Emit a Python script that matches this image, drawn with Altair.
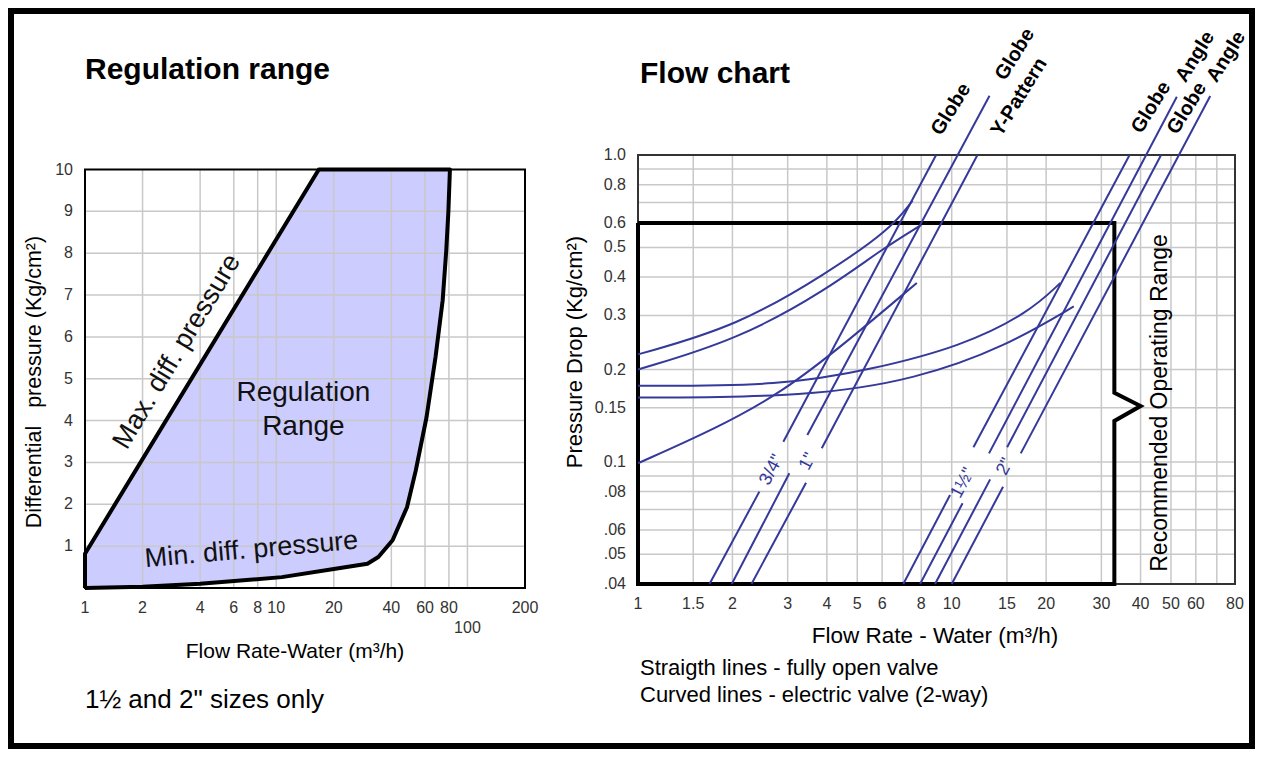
import altair as alt
import pandas as pd

FONT = "Liberation Sans"
BLUE = "#34399a"
GRID = "#c8c8c8"

# ---------------- Left panel: Regulation range ----------------
left_x_ticks = [1, 2, 4, 6, 8, 10, 20, 40, 60, 80, 200]
left_x_ticks_row2 = [100]
left_x_grid = [2, 4, 6, 8, 10, 20, 40, 60, 80, 100]
left_y_ticks = [1, 2, 3, 4, 5, 6, 7, 8, 9, 10]
left_y_grid = [1, 2, 3, 4, 5, 6, 7, 8, 9]

# upper boundary (max diff. pressure, then the 10 kg/cm2 cap)
max_q = [1, 16.7, 81]
max_p = [0.82, 10, 10]
# lower / right boundary (min diff. pressure, then capacity limit)
min_q = [1, 2, 4, 10.7, 20.4, 30, 34.2, 40.6, 48.3, 53.7, 61.1, 68.1, 74.2, 77.5, 79.5, 81]
min_p = [0, 0.03, 0.10, 0.26, 0.46, 0.58, 0.74, 1.14, 1.93, 2.81, 4.08, 5.52, 6.87, 8.07, 9.0, 10]

# ---------------- Right panel: Flow chart ----------------
right_x_ticks = [1, 1.5, 2, 3, 4, 5, 6, 8, 10, 15, 20, 30, 40, 50, 60, 80]
right_x_grid = [1.5, 2, 3, 4, 5, 6, 7, 8, 10, 15, 20, 30, 40, 50, 60, 70]
right_y_ticks = [1.0, 0.8, 0.6, 0.5, 0.4, 0.3, 0.2, 0.15, 0.1, 0.08, 0.06, 0.05, 0.04]
right_y_labels = ["1.0", "0.8", "0.6", "0.5", "0.4", "0.3", "0.2", "0.15", "0.1", ".08", ".06", ".05", ".04"]
right_y_grid = [0.9, 0.8, 0.7, 0.6, 0.5, 0.4, 0.3, 0.2, 0.15, 0.1, 0.09, 0.08, 0.07, 0.06, 0.05]

# recommended operating range outline (with brace)
range_q = [1, 33, 33, 40, 33, 33, 1, 1]
range_p = [0.6, 0.6, 0.168, 0.152, 0.136, 0.04, 0.04, 0.6]

# straight lines (fully open valve), split where the size labels sit
seg_q0 = [1.69, 2.906, 1.99, 3.466, 2.30, 3.853, 7.01, 11.73, 7.93, 13.15, 8.85, 15.02, 10.0, 16.6]
seg_p0 = [0.04, 0.1163, 0.04, 0.1223, 0.04, 0.1107, 0.04, 0.1116, 0.04, 0.1066, 0.04, 0.1116, 0.04, 0.1066]
seg_q1 = [2.437, 8.92, 3.037, 13.2, 3.433, 12.08, 9.88, 36.9, 10.83, 52.2, 13.26, 46.5, 14.58, 66.7]
seg_p1 = [0.080, 1.0, 0.0918, 1.56, 0.0855, 1.0, 0.078, 1.0, 0.0733, 1.549, 0.0877, 1.0, 0.0830, 1.557]

# curved lines (electric valve)
curve_A_q = [1, 2.08, 4.0, 6.35, 7.5]
curve_A_p = [0.224, 0.277, 0.412, 0.57, 0.71]
curve_B_q = [1, 2.08, 4.0, 5.95, 8.0]
curve_B_p = [0.200, 0.250, 0.364, 0.491, 0.592]
curve_C_q = [1, 2.88, 5.57, 10.75, 17.6, 22.2]
curve_C_p = [0.177, 0.177, 0.200, 0.238, 0.306, 0.383]
curve_D_q = [1, 3.5, 7.74, 14.9, 24.5]
curve_D_p = [0.162, 0.163, 0.186, 0.238, 0.321]
curve_E_q = [1, 1.76, 2.88, 4.72, 7.74]
curve_E_p = [0.099, 0.128, 0.168, 0.250, 0.383]

size_labels = ['3/4"', '1"', '1½"', '2"']
size_q = [2.669, 3.484, 10.87, 14.80]
size_p = [0.0941, 0.1002, 0.0853, 0.0964]

valve_labels = ["Globe", "Globe", "Y-Pattern", "Globe", "Angle", "Globe", "Angle"]
valve_q = [9.95, 15.9, 16.4, 43.2, 59.7, 56.2, 75.0]
valve_p = [1.41, 2.13, 1.545, 1.43, 2.09, 1.42, 2.09]

# ---------------- scales (placing the two panels) ----------------
XL = alt.Scale(type="log", domain=[1, 200], range=[74, 514], nice=False)
YL = alt.Scale(type="linear", domain=[0, 10], range=[577, 158.5], nice=False, zero=False)
XR = alt.Scale(type="log", domain=[1, 80], range=[627, 1224], nice=False)
YR = alt.Scale(type="log", domain=[0.04, 1.0], range=[573, 144], nice=False)

one = pd.DataFrame({"a": [0]})


def txt(s, x, y, size=20, weight="normal", angle=0, align="center", baseline="middle", color="black"):
    kw = dict(font=FONT, fontSize=size, fontWeight=weight, align=align, baseline=baseline, color=color)
    if angle:
        kw["angle"] = angle
    return alt.Chart(pd.DataFrame({"t": [s]})).mark_text(**kw).encode(
        x=alt.value(x), y=alt.value(y), text="t:N")


def lx(f):
    return alt.X(f, scale=XL, axis=None)


def ly(f):
    return alt.Y(f, scale=YL, axis=None)


def rx(f):
    return alt.X(f, scale=XR, axis=None)


def ry(f):
    return alt.Y(f, scale=YR, axis=None)


# ---- left layers
max_df = pd.DataFrame({"q": max_q, "p": max_p})
min_df = pd.DataFrame({"q": min_q, "p": min_p})
out_q = [1] + max_q + min_q[::-1]
out_p = [0] + max_p + min_p[::-1]
outline_df = pd.DataFrame({"q": out_q, "p": out_p, "i": list(range(len(out_q)))})

area_hi = alt.Chart(max_df).mark_area(color="#ccccff", opacity=1).encode(
    x=lx("q:Q"), y=ly("p:Q"), y2=alt.datum(0))
area_lo = alt.Chart(min_df).mark_area(color="white", opacity=1).encode(
    x=lx("q:Q"), y=ly("p:Q"), y2=alt.datum(0))
lgrid_v = alt.Chart(pd.DataFrame({"v": left_x_grid})).mark_rule(color=GRID, strokeWidth=1.5).encode(
    x=lx("v:Q"), y=alt.YDatum(0, scale=YL, axis=None), y2=alt.datum(10))
lgrid_h = alt.Chart(pd.DataFrame({"v": left_y_grid})).mark_rule(color=GRID, strokeWidth=1.5).encode(
    y=ly("v:Q"), x=alt.XDatum(1, scale=XL, axis=None), x2=alt.datum(200))
lframe = alt.Chart(one).mark_rect(fillOpacity=0, stroke="black", strokeWidth=2).encode(
    x=alt.XDatum(1, scale=XL, axis=None), x2=alt.datum(200),
    y=alt.YDatum(0, scale=YL, axis=None), y2=alt.datum(10))
outline = alt.Chart(outline_df).mark_line(color="black", strokeWidth=4, strokeJoin="round").encode(
    x=lx("q:Q"), y=ly("p:Q"), order="i:Q")

ann_df = pd.DataFrame({
    "t": ["Max. diff. pressure", "Regulation", "Range", "Min. diff. pressure"],
    "q": [3.03, 13.87, 13.87, 7.42],
    "p": [5.65, 4.65, 3.85, 0.91],
    "a": [301, 0, 0, 355],
    "s": [27, 28, 28, 27],
})
left_ann = alt.Chart(ann_df).mark_text(font=FONT, color="#111").encode(
    x=lx("q:Q"), y=ly("p:Q"), text="t:N", angle=alt.Angle("a:Q", scale=None),
    size=alt.Size("s:Q", scale=None))

lxt = alt.Chart(pd.DataFrame({"v": left_x_ticks, "t": [str(v) for v in left_x_ticks]})).mark_text(
    font=FONT, fontSize=16, color="#333", baseline="middle").encode(
    x=lx("v:Q"), y=alt.value(597), text="t:N")
lxt2 = alt.Chart(pd.DataFrame({"v": left_x_ticks_row2, "t": [str(v) for v in left_x_ticks_row2]})).mark_text(
    font=FONT, fontSize=16, color="#333", baseline="middle").encode(
    x=lx("v:Q"), y=alt.value(617), text="t:N")
lyt = alt.Chart(pd.DataFrame({"v": left_y_ticks, "t": [str(v) for v in left_y_ticks]})).mark_text(
    font=FONT, fontSize=16, color="#333", align="right", baseline="middle").encode(
    x=alt.value(62), y=ly("v:Q"), text="t:N")

left = alt.layer(area_hi, area_lo, lgrid_v, lgrid_h, lframe, outline, left_ann, lxt, lxt2, lyt)

# ---- right layers
rgrid_v = alt.Chart(pd.DataFrame({"v": right_x_grid})).mark_rule(color=GRID, strokeWidth=1.5).encode(
    x=rx("v:Q"), y=alt.YDatum(0.04, scale=YR, axis=None), y2=alt.datum(1.0))
rgrid_h = alt.Chart(pd.DataFrame({"v": right_y_grid})).mark_rule(color=GRID, strokeWidth=1.5).encode(
    y=ry("v:Q"), x=alt.XDatum(1, scale=XR, axis=None), x2=alt.datum(80))
rframe = alt.Chart(one).mark_rect(fillOpacity=0, stroke="#333", strokeWidth=2).encode(
    x=alt.XDatum(1, scale=XR, axis=None), x2=alt.datum(80),
    y=alt.YDatum(0.04, scale=YR, axis=None), y2=alt.datum(1.0))
range_df = pd.DataFrame({"q": range_q, "p": range_p, "i": list(range(len(range_q)))})
range_box = alt.Chart(range_df).mark_line(color="black", strokeWidth=4, strokeJoin="miter").encode(
    x=rx("q:Q"), y=ry("p:Q"), order="i:Q")

seg_df = pd.DataFrame({"q0": seg_q0, "p0": seg_p0, "q1": seg_q1, "p1": seg_p1})
segs = alt.Chart(seg_df).mark_rule(color=BLUE, strokeWidth=2).encode(
    x=rx("q0:Q"), y=ry("p0:Q"), x2="q1:Q", y2="p1:Q")

curve_rows = []
for name, qs, ps in [("A", curve_A_q, curve_A_p), ("B", curve_B_q, curve_B_p),
                     ("C", curve_C_q, curve_C_p), ("D", curve_D_q, curve_D_p),
                     ("E", curve_E_q, curve_E_p)]:
    for q, p in zip(qs, ps):
        curve_rows.append({"c": name, "q": q, "p": p})
curves = alt.Chart(pd.DataFrame(curve_rows)).mark_line(color=BLUE, strokeWidth=2, interpolate="basis").encode(
    x=rx("q:Q"), y=ry("p:Q"), detail="c:N")

size_txt = alt.Chart(pd.DataFrame({"t": size_labels, "q": size_q, "p": size_p})).mark_text(
    font=FONT, fontSize=18, color=BLUE, angle=298).encode(x=rx("q:Q"), y=ry("p:Q"), text="t:N")
valve_txt = alt.Chart(pd.DataFrame({"t": valve_labels, "q": valve_q, "p": valve_p})).mark_text(
    font=FONT, fontSize=20, fontWeight="bold", color="black", angle=302).encode(
    x=rx("q:Q"), y=ry("p:Q"), text="t:N")

rxt = alt.Chart(pd.DataFrame({"v": right_x_ticks, "t": [str(v) for v in right_x_ticks]})).mark_text(
    font=FONT, fontSize=16, color="#333", baseline="middle").encode(
    x=rx("v:Q"), y=alt.value(593), text="t:N")
ryt = alt.Chart(pd.DataFrame({"v": right_y_ticks, "t": right_y_labels})).mark_text(
    font=FONT, fontSize=16, color="#333", align="right", baseline="middle").encode(
    x=alt.value(615), y=ry("v:Q"), text="t:N")

right = alt.layer(rgrid_v, rgrid_h, rframe, range_box, segs, curves, size_txt, valve_txt, rxt, ryt)

# ---- free text (titles, axis titles, notes)
texts = [
    txt("Regulation range", 74, 68, size=30, weight="bold", align="left", baseline="alphabetic"),
    txt("Flow chart", 629, 72, size=30, weight="bold", align="left", baseline="alphabetic"),
    txt("Differential\u00a0\u00a0\u00a0pressure (Kg/cm²)", 24, 371, size=21.5, angle=270),
    txt("Flow Rate-Water (m³/h)", 284, 641, size=21),
    txt("1½ and 2\" sizes only", 74, 689, size=26, align="left"),
    txt("Pressure Drop (Kg/cm²)", 564, 341, size=22, angle=270),
    txt("Flow Rate - Water (m³/h)", 924, 625, size=22.5),
    txt("Straigth lines - fully open valve", 629, 657, size=22, align="left"),
    txt("Curved lines - electric valve (2-way)", 629, 684, size=22, align="left"),
    txt("Recommended Operating Range", 1149, 392, size=23, angle=270),
]

chart = alt.layer(left, right, *texts).resolve_scale(
    x="independent", y="independent", size="independent", angle="independent"
).properties(
    width=1241, height=735, padding=3, autosize=alt.AutoSizeParams(type="none"), background="white"
).configure_view(stroke="black", strokeWidth=6)

chart.save("out.html", embed_options={"renderer": "svg", "actions": False})
